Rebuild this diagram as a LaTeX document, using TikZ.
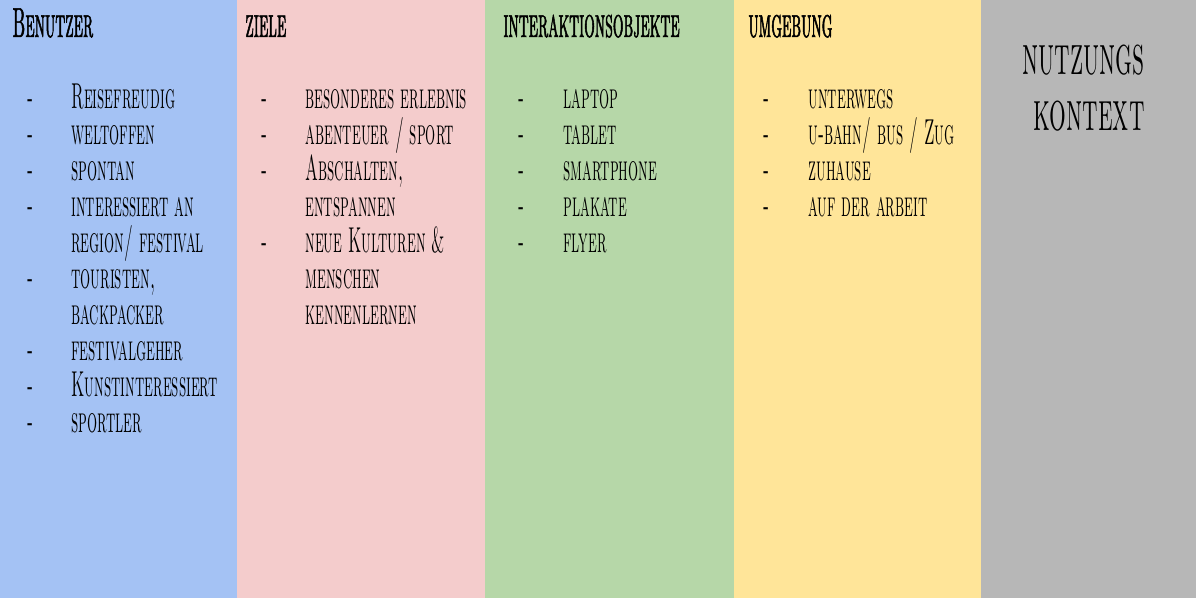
\documentclass[tikz,border=0pt]{standalone}
\usepackage{fontspec}
\newfontfamily\handfont{lmromancaps10-regular}[Extension=.otf, FakeStretch=0.44]
\newfontfamily\handbold{lmromancaps10-regular}[Extension=.otf, FakeStretch=0.4, FakeBold=1.2]
\newfontfamily\handtitel{lmromancaps10-regular}[Extension=.otf, FakeStretch=0.47]
\usetikzlibrary{positioning}

\definecolor{blau}{HTML}{A4C2F4}
\definecolor{rosa}{HTML}{F4CCCC}
\definecolor{gruen}{HTML}{B6D7A8}
\definecolor{gelb}{HTML}{FFE599}
\definecolor{grau}{HTML}{B7B7B7}

\newcommand\eintragfont{\handfont\fontsize{18pt}{18pt}\selectfont}
\newcommand\kopffont{\handbold\fontsize{21pt}{23pt}\selectfont}
\newcommand\titelfont{\handtitel\fontsize{28pt}{28pt}\selectfont}

% #1 name, #2 x of dash, #3 x of text, #4 list of flag/text
\newcommand\liste[4]{%
  \foreach \d/\t [count=\i] in {#4}{%
    \pgfmathsetmacro\yy{73+36*\i}
    \ifnum\d=1 \node[strich] (#1-s\i) at (#2,\yy) {-};\fi
    \node[eintrag] (#1-\i) at (#3,\yy) {\t};
  }}

\begin{document}
\begin{tikzpicture}[
  x=0.5pt, y=-0.5pt,
  kopf/.style={anchor=base west, inner sep=0pt, font=\kopffont},
  eintrag/.style={anchor=base west, inner sep=0pt, font=\eintragfont},
  strich/.style={eintrag},
  titel/.style={anchor=base east, inner sep=0pt, font=\titelfont}
]
\useasboundingbox (0,0) rectangle (1196,598);
% columns
\fill[blau] (0,0) rectangle (237,598);
\fill[rosa] (237,0) rectangle (485,598);
\fill[gruen] (485,0) rectangle (734,598);
\fill[gelb] (734,0) rectangle (981,598);
\fill[grau] (981,0) rectangle (1196,598);

% headers
\node[kopf] (benutzer) at (12,37) {Benutzer};
\node[kopf] (ziele) at (245,37) {ziele};
\node[kopf] (objekte) at (503,37) {interaktionsobjekte};
\node[kopf] (umgebung) at (748,37) {umgebung};

% lists
\liste{b}{27}{71}{1/Reisefreudig, 1/weltoffen, 1/spontan, 1/interessiert an,
  0/{region/ festival}, 1/{touristen,}, 0/backpacker, 1/festivalgeher,
  1/Kunstinteressiert, 1/sportler}
\liste{z}{261}{305}{1/besonderes erlebnis, 1/{abenteuer / sport},
  1/{Abschalten,}, 0/entspannen, 1/neue Kulturen \&, 0/menschen,
  0/kennenlernen}
\liste{o}{518}{563}{1/laptop, 1/tablet, 1/smartphone, 1/plakate, 1/flyer}
\liste{u}{763}{808}{1/unterwegs, 1/{u-bahn/ bus / Zug}, 1/zuhause,
  1/auf der arbeit}

% title
\node[titel] (nutzungs) at (1145,75) {nutzungs};
\node[titel] (kontext) at (1145,131) {kontext};
\end{tikzpicture}
\end{document}
